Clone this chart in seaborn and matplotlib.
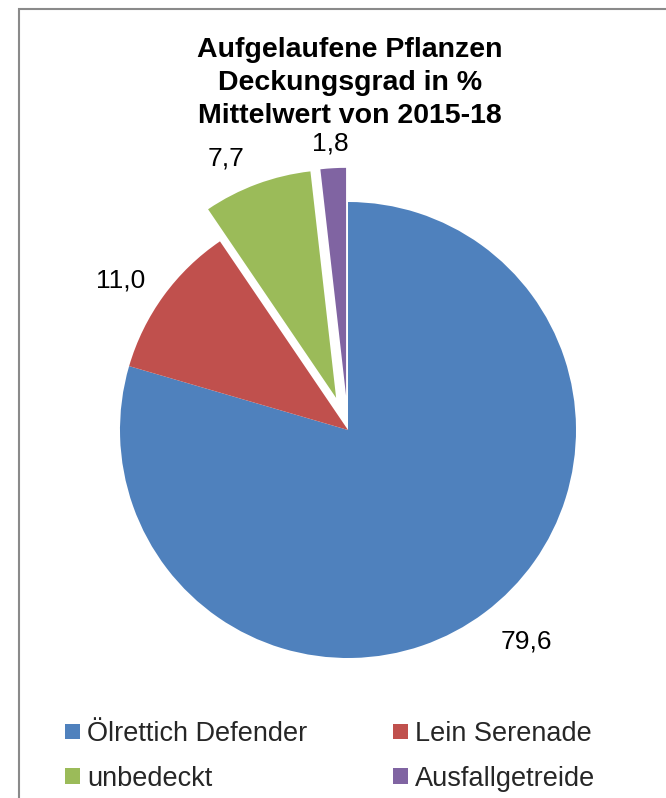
import matplotlib
matplotlib.use("Agg")
import matplotlib.pyplot as plt
from matplotlib.patches import Rectangle
import seaborn as sns

# Chart content
categories = ["Ölrettich Defender", "Lein Serenade", "unbedeckt", "Ausfallgetreide"]
values = [79.6, 11.0, 7.7, 1.8]
colors = ["#4F81BD", "#C0504D", "#9BBB59", "#8064A2"]
explode = [0.0, 0.0, 0.15, 0.15]
title_lines = ["Aufgelaufene Pflanzen", "Deckungsgrad in %", "Mittelwert von 2015-18"]

# value label anchors (data units: centre x, baseline y)
label_pos = [(0.781, -0.959), (-0.998, 0.627), (-0.535, 1.162), (-0.079, 1.224)]

sns.set_theme(style="white")
plt.rcParams["font.family"] = ["Liberation Sans", "DejaVu Sans"]

W, H = 666, 798
fig = plt.figure(figsize=(W / 100, H / 100), dpi=100)
fig.patch.set_facecolor("white")

# pie axes: centre (348, 430) px, radius 228 px, limits +-1.3
cx, cy, r, lim = 348, 430, 228, 1.3
half = r * lim
ax = fig.add_axes([(cx - half) / W, (H - (cy + half)) / H, 2 * half / W, 2 * half / H])

wedges, _ = ax.pie(values, colors=colors, startangle=90, counterclock=False,
                   explode=explode, radius=1,
                   wedgeprops=dict(linewidth=0, antialiased=True))
ax.set_xlim(-lim, lim)
ax.set_ylim(-lim, lim)
ax.set_aspect("equal")
ax.axis("off")

for v, (x, y) in zip(values, label_pos):
    ax.text(x, y, f"{v:.1f}".replace(".", ","), ha="center", va="baseline",
            fontsize=19, color="black")

# title
fig.text(350 / W, 1 - 123 / H, "\n".join(title_lines), ha="center", va="baseline",
         fontsize=20.5, fontweight="bold", linespacing=1.34, color="black")

# legend, row-wise order across two columns
order = [0, 2, 1, 3]
leg = fig.legend([wedges[i] for i in order], [categories[i] for i in order],
                 ncol=2, loc="upper left", bbox_to_anchor=(65 / W, 1 - 721 / H),
                 frameon=False, fontsize=19.5, borderpad=0, borderaxespad=0,
                 handlelength=0.55, handleheight=0.52, handletextpad=0.26,
                 labelspacing=0.70, columnspacing=3.17)

# chart area border
fig.patches.append(Rectangle((19 / W, -0.05), 1.2, 1 + 0.05 - 9.5 / H,
                             transform=fig.transFigure, fill=False,
                             edgecolor="#8a8a8a", linewidth=1.5, zorder=0))

fig.savefig("out.png", dpi=100, facecolor="white")
